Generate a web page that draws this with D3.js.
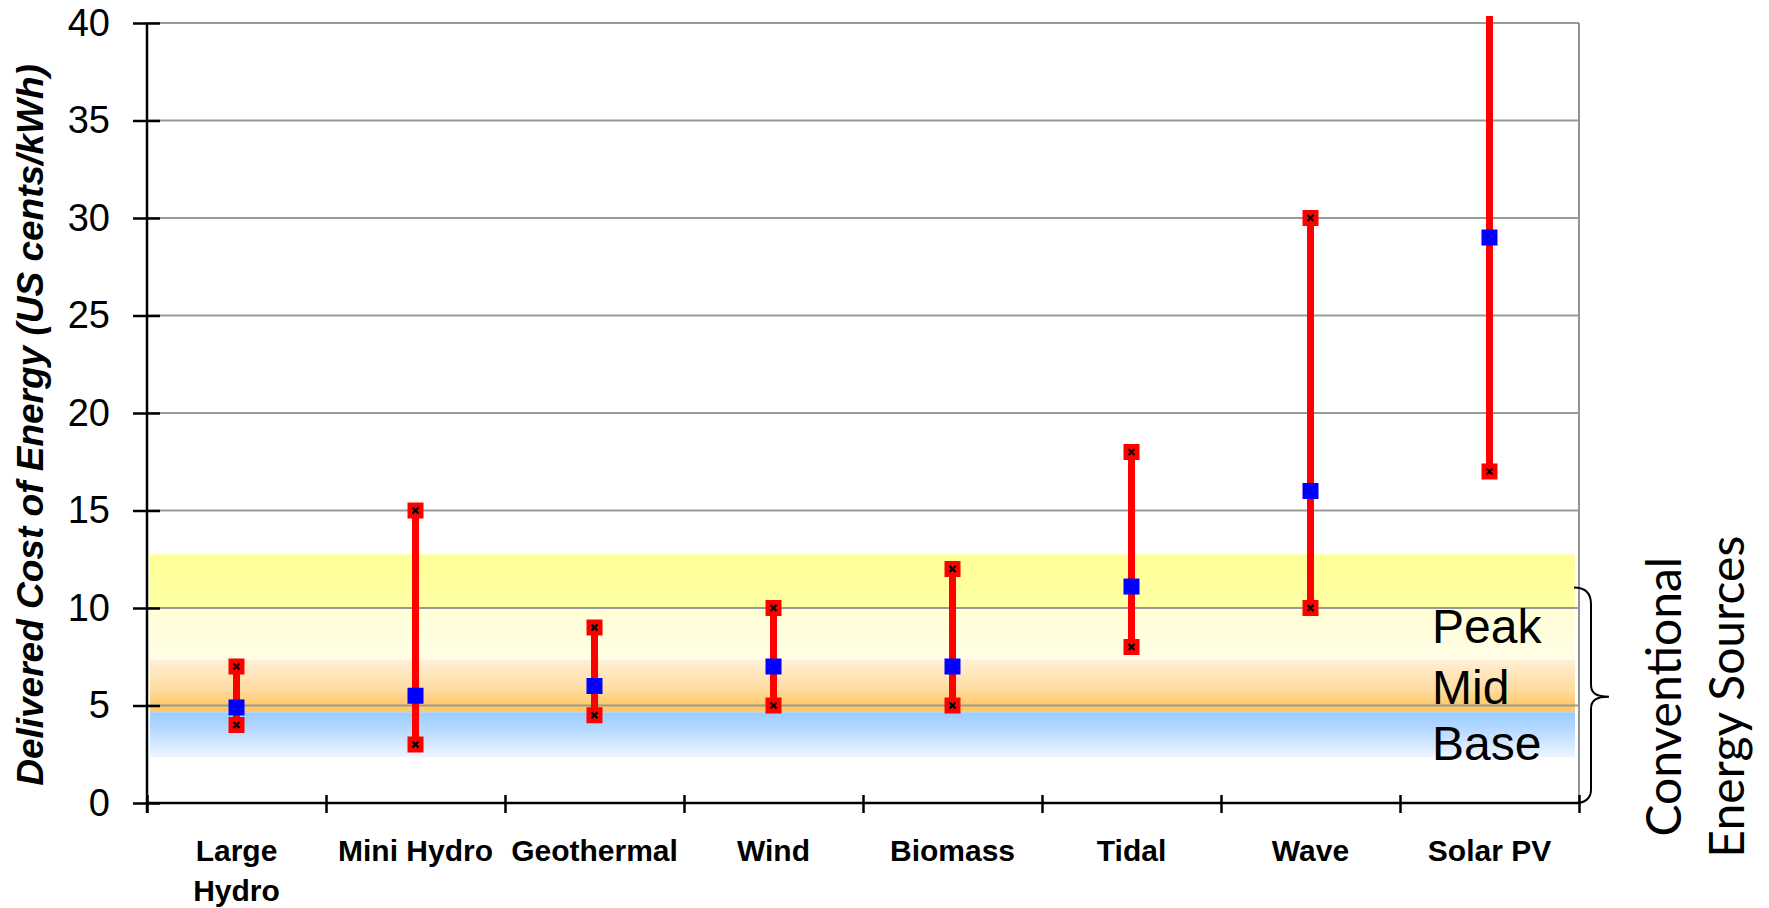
<!DOCTYPE html>
<html>
<head>
<meta charset="utf-8">
<script src="https://cdn.jsdelivr.net/npm/d3@7"></script>
<style>
  html, body { margin: 0; padding: 0; background: #fff; }
  svg { display: block; }
</style>
</head>
<body>
<svg id="chart" width="1769" height="908"></svg>
<script>
// Delivered cost ranges of renewable energy sources (US cents/kWh)
const categories = ["Large Hydro", "Mini Hydro", "Geothermal", "Wind", "Biomass", "Tidal", "Wave", "Solar PV"];
const lowCost = [4, 3, 4.5, 5, 5, 8, 10, 17];
const highCost = [7, 15, 9, 10, 12, 18, 30, 50];
const typicalCost = [4.9, 5.5, 6, 7, 7, 11.1, 16, 29];
const yTicks = [0, 5, 10, 15, 20, 25, 30, 35, 40];

// Conventional generation cost bands
const bandNames = ["Peak", "Mid", "Base"];
const bandLow = [7.35, 4.65, 2.35];
const bandHigh = [12.75, 7.35, 4.65];
const braceRange = [0, 11.05];
const braceTip = 5.45;

const svg = d3.select("#chart");
const plot = { left: 147, right: 1579, top: 23, bottom: 803 };

const y = d3.scaleLinear().domain([0, 40]).range([plot.bottom, plot.top]);
const xBand = d3.scaleBand().domain(categories).range([plot.left, plot.right]).padding(0);
const xEdge = d3.scaleLinear().domain([0, categories.length]).range([plot.left, plot.right]);

// gradients for the bands
const defs = svg.append("defs");
function grad(id, stops) {
  const g = defs.append("linearGradient").attr("id", id)
    .attr("x1", 0).attr("y1", 0).attr("x2", 0).attr("y2", 1);
  stops.forEach(s => g.append("stop").attr("offset", s[0]).attr("stop-color", s[1]));
}
grad("g-peak", [[0, "#FFFF96"], [0.5, "#FFFFA6"], [0.52, "#FFFFD4"], [1, "#FFFDE6"]]);
grad("g-mid", [[0, "#FFEFD6"], [0.55, "#FFDDA2"], [0.86, "#FFC96C"], [1, "#FFC96A"]]);
grad("g-base", [[0, "#99CCFF"], [0.4, "#B8DAFF"], [1, "#EEF6FF"]]);
const bandFill = ["url(#g-peak)", "url(#g-mid)", "url(#g-base)"];

svg.append("g").selectAll("rect")
  .data(bandNames)
  .join("rect")
  .attr("x", plot.left + 3)
  .attr("width", plot.right - plot.left - 7)
  .attr("y", (d, i) => y(bandHigh[i]))
  .attr("height", (d, i) => y(bandLow[i]) - y(bandHigh[i]))
  .attr("fill", (d, i) => bandFill[i]);

// horizontal gridlines
svg.append("g").selectAll("line")
  .data(yTicks.filter(v => v > 0))
  .join("line")
  .attr("x1", plot.left).attr("x2", plot.right)
  .attr("y1", d => y(d)).attr("y2", d => y(d))
  .attr("stroke", "#999").attr("stroke-width", 2);

// right border of the plot area
svg.append("line")
  .attr("x1", plot.right).attr("x2", plot.right)
  .attr("y1", y(40)).attr("y2", y(0))
  .attr("stroke", "#939393").attr("stroke-width", 2);

// band labels, set near the lower edge of each band
const labelShift = [-17, -8, 3];
svg.append("g").selectAll("text")
  .data(bandNames)
  .join("text")
  .attr("x", 1432)
  .attr("y", (d, i) => y(bandLow[i]) + labelShift[i])
  .attr("font-family", "Liberation Sans, Arial, sans-serif")
  .attr("font-size", 48)
  .attr("fill", "#000")
  .text(d => d);

// ranges: red line from low to high, clipped at the top of the plot
defs.append("clipPath").attr("id", "plot-clip")
  .append("rect").attr("x", 0).attr("y", y(40) - 7).attr("width", 1769).attr("height", 908);

const marks = svg.append("g").attr("clip-path", "url(#plot-clip)");
const cx = d => xBand(d) + xBand.bandwidth() / 2;

marks.selectAll("line.range")
  .data(categories)
  .join("line").attr("class", "range")
  .attr("x1", cx).attr("x2", cx)
  .attr("y1", (d, i) => y(lowCost[i]))
  .attr("y2", (d, i) => y(highCost[i]))
  .attr("stroke", "#FF0000").attr("stroke-width", 7);

// red end markers with a black cross
const ends = [];
categories.forEach((c, i) => { ends.push({ c, v: lowCost[i] }); ends.push({ c, v: highCost[i] }); });
const endG = marks.selectAll("g.end")
  .data(ends)
  .join("g").attr("class", "end")
  .attr("transform", d => `translate(${cx(d.c)},${y(d.v)})`);
endG.append("rect")
  .attr("x", -8).attr("y", -8).attr("width", 16).attr("height", 16)
  .attr("fill", "#FF0000");
endG.append("path")
  .attr("d", "M-3,-3L3,3M-3,3L3,-3")
  .attr("stroke", "#000").attr("stroke-width", 2.2);

// typical cost markers
marks.selectAll("rect.typ")
  .data(categories)
  .join("rect").attr("class", "typ")
  .attr("x", d => cx(d) - 8)
  .attr("y", (d, i) => y(typicalCost[i]) - 8)
  .attr("width", 16).attr("height", 16)
  .attr("fill", "#0000FF");

// y axis
const yAxis = svg.append("g")
  .attr("transform", `translate(${plot.left},0)`)
  .call(d3.axisLeft(y).tickValues(yTicks).tickSize(14).tickPadding(23));
yAxis.select(".domain").attr("stroke", "#000").attr("stroke-width", 2.5)
  .attr("d", `M0,${y(40)}V${y(0) + 10}`);
yAxis.selectAll(".tick line").attr("stroke", "#000").attr("stroke-width", 2.5);
yAxis.selectAll(".tick").append("line")
  .attr("x2", 13).attr("stroke", "#000").attr("stroke-width", 2.5);
yAxis.selectAll(".tick text")
  .attr("font-family", "Liberation Sans, Arial, sans-serif")
  .attr("font-size", 38).attr("fill", "#000");

// x axis with ticks on category boundaries
const xAxis = svg.append("g")
  .attr("transform", `translate(0,${plot.bottom})`)
  .call(d3.axisBottom(xEdge).ticks(categories.length).tickSize(10).tickFormat(""));
xAxis.select(".domain").attr("stroke", "#000").attr("stroke-width", 2.5)
  .attr("d", `M${plot.left},0H${plot.right}`);
xAxis.selectAll(".tick line").attr("stroke", "#000").attr("stroke-width", 2.5)
  .attr("y1", -8);

// category labels
const labels = svg.append("g").selectAll("text")
  .data(categories)
  .join("text")
  .attr("x", cx)
  .attr("y", 861)
  .attr("text-anchor", "middle")
  .attr("font-family", "Liberation Sans, Arial, sans-serif")
  .attr("font-weight", "bold")
  .attr("font-size", 30)
  .attr("fill", "#000");
labels.each(function (d) {
  const parts = d === "Large Hydro" ? ["Large", "Hydro"] : [d];
  const t = d3.select(this);
  parts.forEach((p, k) => t.append("tspan").attr("x", cx(d)).attr("dy", k === 0 ? 0 : 40).text(p));
});

// y axis title
svg.append("text")
  .attr("transform", `translate(43,${(y(0) + y(40)) / 2 + 12}) rotate(-90)`)
  .attr("text-anchor", "middle")
  .attr("font-family", "Liberation Sans, Arial, sans-serif")
  .attr("font-weight", "bold")
  .attr("font-style", "italic")
  .attr("font-size", 37)
  .attr("fill", "#000")
  .text("Delivered Cost of Energy (US cents/kWh)");

// brace spanning the conventional sources
const bx = plot.right - 5, sx = plot.right + 12, tx = plot.right + 30;
const yt = y(braceRange[1]), yb = y(braceRange[0]), ym = y(braceTip);
svg.append("path")
  .attr("d", `M${bx},${yt} C${bx + 12},${yt} ${sx},${yt + 6} ${sx},${yt + 17}
              L${sx},${ym - 12} C${sx},${ym - 3} ${sx + 6},${ym} ${tx},${ym}
              C${sx + 6},${ym} ${sx},${ym + 3} ${sx},${ym + 12}
              L${sx},${yb - 13} C${sx},${yb - 4} ${bx + 10},${yb} ${bx + 2},${yb}`)
  .attr("fill", "none").attr("stroke", "#000").attr("stroke-width", 2);

// side caption
const cap = svg.append("text")
  .attr("transform", `translate(1681,${ym}) rotate(-90)`)
  .attr("text-anchor", "middle")
  .attr("font-family", "Lato, 'Open Sans', sans-serif")
  .attr("font-size", 48)
  .attr("fill", "#000");
cap.append("tspan").attr("x", 0).attr("dy", 0).text("Conventional");
cap.append("tspan").attr("x", 0).attr("dy", 63).text("Energy Sources");
</script>
</body>
</html>
